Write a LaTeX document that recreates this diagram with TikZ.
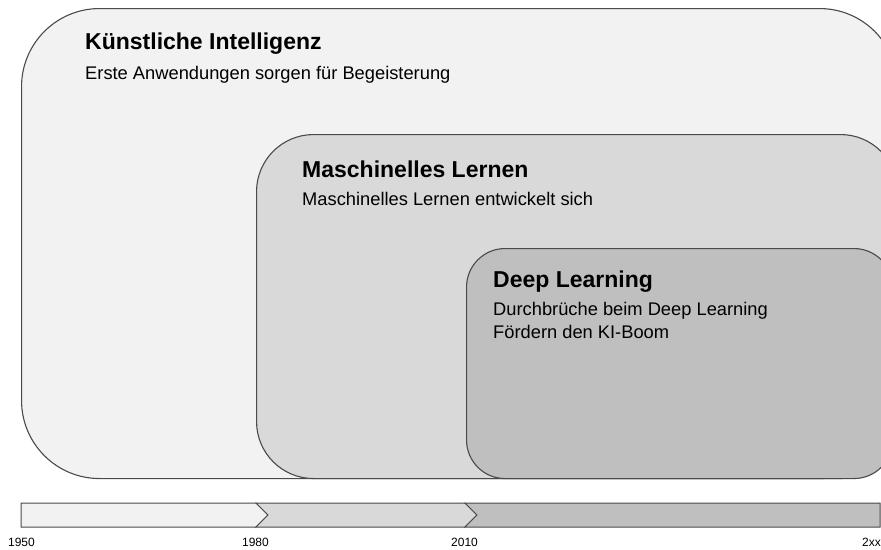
\documentclass[tikz,border=0pt]{standalone}
\usepackage{fontspec}
\setmainfont{Liberation Sans}
\definecolor{fillA}{HTML}{F2F2F2}
\definecolor{fillB}{HTML}{D9D9D9}
\definecolor{fillC}{HTML}{BFBFBF}
\definecolor{edge}{HTML}{4A4A4A}
\begin{document}
\begin{tikzpicture}[x=1pt,y=-1pt,
  era/.style={draw=edge, line width=1.1pt, inner sep=0pt, anchor=north west},
  headline/.style={anchor=base west, inner sep=0pt, font=\fontsize{23}{27}\selectfont\bfseries},
  caption/.style={anchor=base west, inner sep=0pt, font=\fontsize{18.3}{22}\selectfont},
  segment/.style={draw=edge, line width=1pt, line join=miter},
  year/.style={anchor=base, inner sep=0pt, font=\fontsize{12}{14}\selectfont}]
\useasboundingbox (0,0) rectangle (881,549);
\clip (0,0) rectangle (881,549);

% nested eras
\node[era, fill=fillA, rounded corners=78pt, minimum width=876pt, minimum height=470pt] (ki) at (21,8) {};
\node[era, fill=fillB, rounded corners=57pt, minimum width=641pt, minimum height=344pt] (ml) at (256,134) {};
\node[era, fill=fillC, rounded corners=38.5pt, minimum width=426pt, minimum height=230pt] (dl) at (466,248) {};

% labels
\node[headline] (kiT) at (85,49) {Künstliche Intelligenz};
\node[caption] (kiS) at (85,79) {Erste Anwendungen sorgen für Begeisterung};
\node[headline] (mlT) at (302,177) {Maschinelles Lernen};
\node[caption] (mlS) at (302,205) {Maschinelles Lernen entwickelt sich};
\node[headline] (dlT) at (493,287) {Deep Learning};
\node[caption] (dlS1) at (493,315) {Durchbrüche beim Deep Learning};
\node[caption] (dlS2) at (493,338) {Fördern den KI-Boom};

% timeline bar
\draw[segment, fill=fillA] (21,503) -- (256,503) -- (268,515) -- (256,527) -- (21,527) -- cycle;
\draw[segment, fill=fillB] (256,503) -- (465,503) -- (477,515) -- (465,527) -- (256,527) -- (268,515) -- cycle;
\draw[segment, fill=fillC] (465,503) -- (880,503) -- (880,527) -- (465,527) -- (477,515) -- cycle;

\node[year] (y1950) at (21.5,546) {1950};
\node[year] (y1980) at (255.5,546) {1980};
\node[year] (y2010) at (464.5,546) {2010};
\node[year, anchor=base west] (y2xx) at (862,546) {2xx};
\end{tikzpicture}
\end{document}
